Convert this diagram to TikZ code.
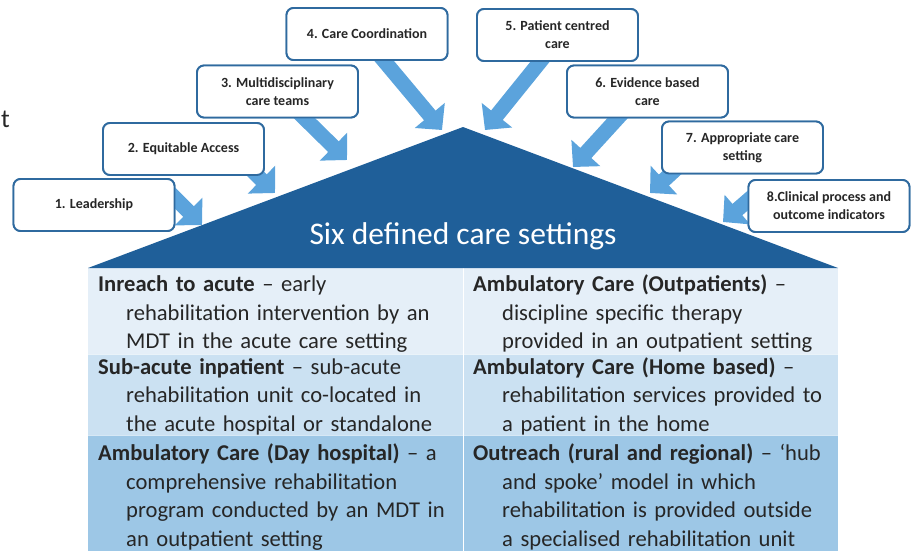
\documentclass[tikz,border=0pt]{standalone}
\usepackage{fontspec}
\setmainfont{Carlito}
\usetikzlibrary{arrows.meta}

\definecolor{roofblue}{HTML}{1F5F99}
\definecolor{arrowblue}{HTML}{5BA3DC}
\definecolor{boxline}{HTML}{2F6A9F}
\definecolor{rowA}{HTML}{E5EFF8}
\definecolor{rowB}{HTML}{CBE1F2}
\definecolor{rowC}{HTML}{9DC7E6}
\definecolor{ink}{HTML}{262626}

\tikzset{
  principle/.style={draw=boxline, line width=1.9pt, rounded corners=7pt,
    fill=white, minimum width=161pt, minimum height=52pt, align=center,
    font=\fontsize{14}{18}\selectfont\bfseries, text=ink, inner sep=2pt},
  feed/.style={draw=arrowblue, line width=15pt,
    -{Triangle[length=19pt,width=38pt]}},
  cell/.style={anchor=base west, text width=370pt, inner sep=0pt,
    font=\fontsize{22.6}{28.5}\selectfont, text=ink},
}
% a paragraph whose lines after the first hang by #1
\newcommand{\hangpar}[2]{\hangindent=#1\hangafter=1\relax #2\par}

\begin{document}
\begin{tikzpicture}[x=1pt, y=-1pt]
  \useasboundingbox (0,0) rectangle (913,551);

  % leftover letter at the left margin
  \node[anchor=base west, inner sep=0pt, font=\fontsize{26}{28}\selectfont, text=ink] (stray) at (1,127) {t};

  % table of the six care settings
  \fill[rowA] (88,268) rectangle (838,354);
  \fill[rowB] (88,354) rectangle (838,435);
  \fill[rowC] (88,435) rectangle (838,551);
  \draw[white, line width=1pt] (463,268) -- (463,551);
  \draw[white, opacity=0.6, line width=0.8pt] (88,354) -- (838,354) (88,435) -- (838,435);

  % roof
  \fill[roofblue] (88,268) -- (463,127) -- (838,268) -- cycle;
  \node[text=white, font=\fontsize{31.5}{34}\selectfont] (title) at (463,236) {Six defined care settings};

  % cells, first line flush and the rest hanging
  \node[cell] (c11) at (98,291.5) {\hangpar{28pt}{\textbf{Inreach to acute} – early\newline rehabilitation intervention by an\newline MDT in the acute care setting}};
  \node[cell] (c21) at (98,374) {\hangpar{28pt}{\textbf{Sub-acute inpatient} – sub-acute\newline rehabilitation unit co-located in\newline the acute hospital or standalone}};
  \node[cell] (c31) at (98,460.5) {\hangpar{28pt}{\textbf{Ambulatory Care (Day hospital)} – a\newline comprehensive rehabilitation\newline program conducted by an MDT in\newline an outpatient setting}};
  \node[cell] (c12) at (473,291.5) {\hangpar{29pt}{\textbf{Ambulatory Care (Outpatients)} –\newline discipline specific therapy\newline provided in an outpatient setting}};
  \node[cell] (c22) at (473,374) {\hangpar{29pt}{\textbf{Ambulatory Care (Home based)} –\newline rehabilitation services provided to\newline a patient in the home}};
  \node[cell] (c32) at (473,460.5) {\hangpar{29pt}{\textbf{Outreach (rural and regional)} – ‘hub\newline and spoke’ model in which\newline rehabilitation is provided outside\newline a specialised rehabilitation unit}};

  % arrow tips resting on the roof
  \coordinate (t1) at (202,225);
  \coordinate (t2) at (275,193);
  \coordinate (t3) at (347,160);
  \coordinate (t4) at (442,130);
  \coordinate (t5) at (485,130);
  \coordinate (t6) at (573,167);
  \coordinate (t7) at (650,193);
  \coordinate (t8) at (723,222);

  % principle boxes (placed first so the arrows can start from them)
  \path
    node[principle] (b1) at (94,205) {1. Leadership}
    node[principle] (b2) at (183.5,149) {2. Equitable Access}
    node[principle] (b3) at (277.5,91.5) {3. Multidisciplinary\\care teams}
    node[principle] (b4) at (367,34) {4. Care Coordination}
    node[principle] (b5) at (557.5,35) {5. Patient centred\\care}
    node[principle] (b6) at (647.5,91.5) {6. Evidence based\\care}
    node[principle] (b7) at (742.5,147.5) {7. Appropriate care\\setting}
    node[principle] (b8) at (829,206) {8.Clinical process and\\outcome indicators};

  % arrows, drawn from inside each box so the box covers their tails
  \draw[feed] ([shift={(68,-20)}]b1.center) -- (t1);
  \draw[feed] ([shift={(56,9)}]b2.center) -- (t2);
  \draw[feed] ([shift={(12,12)}]b3.center) -- (t3);
  \draw[feed] ([shift={(8,16)}]b4.center) -- (t4);
  \draw[feed] ([shift={(-12,20)}]b5.center) -- (t5);
  \draw[feed] ([shift={(-22,18)}]b6.center) -- (t6);
  \draw[feed] ([shift={(-52,8)}]b7.center) -- (t7);
  \draw[feed] ([shift={(-69,-16)}]b8.center) -- (t8);

  % boxes redrawn on top of the arrow tails
  \path
    node[principle] at (b1) {1. Leadership}
    node[principle] at (b2) {2. Equitable Access}
    node[principle] at (b3) {3. Multidisciplinary\\care teams}
    node[principle] at (b4) {4. Care Coordination}
    node[principle] at (b5) {5. Patient centred\\care}
    node[principle] at (b6) {6. Evidence based\\care}
    node[principle] at (b7) {7. Appropriate care\\setting}
    node[principle] at (b8) {8.Clinical process and\\outcome indicators};
\end{tikzpicture}
\end{document}
